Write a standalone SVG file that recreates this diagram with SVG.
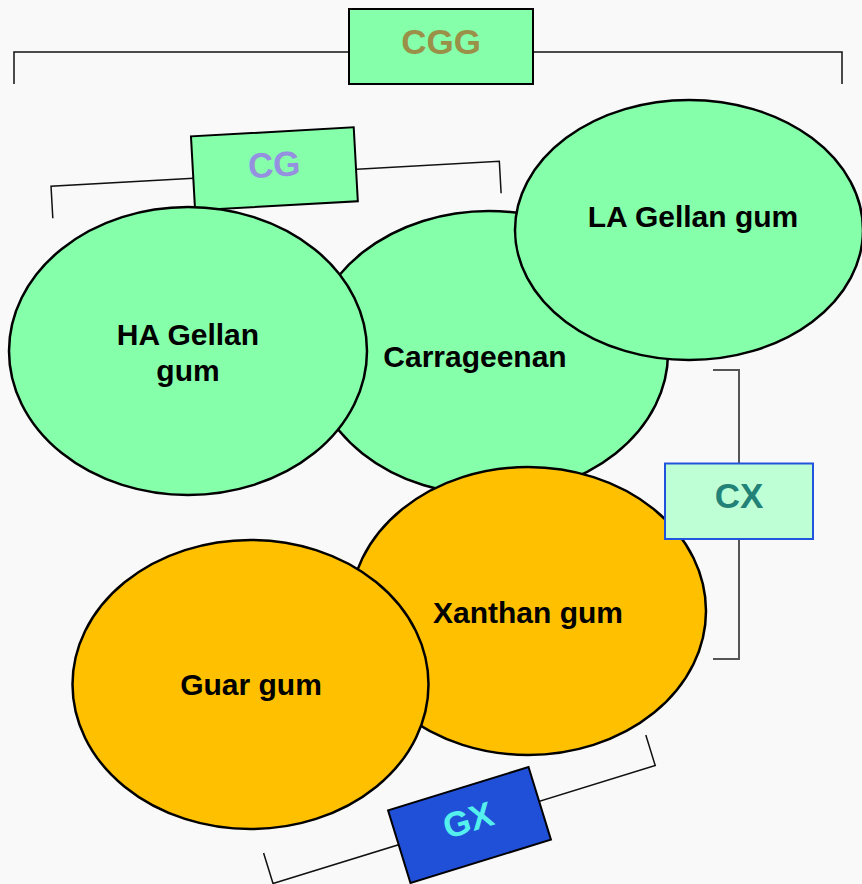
<svg xmlns="http://www.w3.org/2000/svg" width="862" height="884" viewBox="0 0 862 884">
<style>
.bg{fill:#f9f9f9}
.gum{stroke:#000;stroke-width:2.5}
.green{fill:#86ffaa}
.orange{fill:#ffc000}
.lbl{font-family:"Liberation Sans",Arial,sans-serif;font-weight:bold;font-size:30px;fill:#000;text-anchor:middle}
.tag{font-family:"Liberation Sans",Arial,sans-serif;font-weight:bold;font-size:35px;text-anchor:middle}
.br{fill:none;stroke:#111;stroke-width:1.5}
.box{stroke:#000;stroke-width:2}
</style>
<rect class="bg" x="0" y="0" width="862" height="884"/>
<g id="connectors">
  <path class="br" d="M14,84 V52 H842 V84"/>
  <path class="br" transform="translate(274.4,168.8) rotate(-3.2)" d="M-224,37 V5 H225 V37"/>
  <path class="br" style="stroke:#555;stroke-width:2" d="M713,370 H739 V659 H713"/>
  <path class="br" transform="translate(469.5,825) rotate(-17.15)" d="M-205,-34 V-2 H195 V-34"/>
</g>
<g id="CGG">
  <rect class="box green" x="349" y="9" width="184" height="75"/>
  <text class="tag" x="441" y="54" fill="#9a9048">CGG</text>
</g>
<g id="CG" transform="translate(274.4,168.8) rotate(-3.2)">
  <rect class="box green" x="-81.5" y="-37" width="163" height="74"/>
  <text class="tag" x="0" y="8" fill="#9590e0">CG</text>
</g>
<g id="carrageenan">
  <ellipse class="gum green" cx="489" cy="353" rx="179" ry="142"/>
  <text class="lbl" x="475" y="367">Carrageenan</text>
</g>
<g id="ha-gellan">
  <ellipse class="gum green" cx="188" cy="351" rx="179" ry="144"/>
  <text class="lbl" x="188" y="345">HA Gellan</text>
  <text class="lbl" x="188" y="381">gum</text>
</g>
<g id="la-gellan">
  <ellipse class="gum green" cx="689" cy="230" rx="174" ry="130"/>
  <text class="lbl" x="693" y="227">LA Gellan gum</text>
</g>
<g id="xanthan">
  <ellipse class="gum orange" cx="528" cy="611" rx="178" ry="144"/>
  <text class="lbl" x="528" y="623">Xanthan gum</text>
</g>
<g id="guar">
  <ellipse class="gum orange" cx="250.5" cy="684.5" rx="178" ry="144.5"/>
  <text class="lbl" x="251" y="695">Guar gum</text>
</g>
<g id="CX">
  <rect x="665" y="463.5" width="148" height="75.5" fill="#bfffd6" stroke="#2255dd" stroke-width="2"/>
  <text class="tag" x="739" y="508" fill="#238277">CX</text>
</g>
<g id="GX" transform="translate(469.5,825) rotate(-17.15)">
  <rect class="box" x="-73.5" y="-38" width="147" height="76" fill="#2050d8"/>
  <text class="tag" x="0" y="7" fill="#55f0ee">GX</text>
</g>
</svg>
